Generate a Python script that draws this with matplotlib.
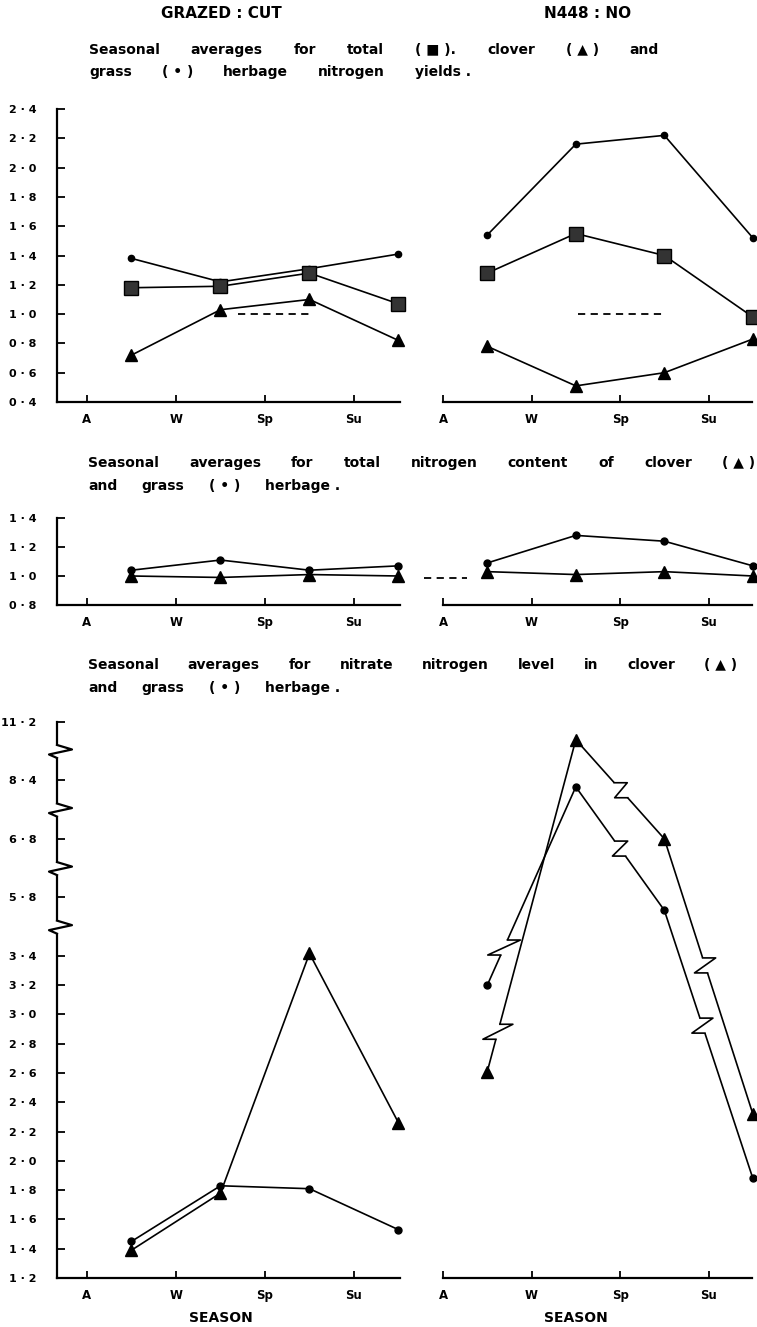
import numpy as np
import matplotlib
matplotlib.use("Agg")
import matplotlib.pyplot as plt

# seasons on the x axis, values plotted at mid-season
seasons = ["A", "W", "Sp", "Su"]
season_ticks = [0, 1, 2, 3]
mid = [0.5, 1.5, 2.5, 3.5]

# herbage nitrogen yields
yld_cut_total = [1.18, 1.19, 1.28, 1.07]
yld_cut_clover = [0.72, 1.03, 1.10, 0.82]
yld_cut_grass = [1.38, 1.22, 1.31, 1.41]
yld_no_total = [1.28, 1.55, 1.40, 0.98]
yld_no_clover = [0.78, 0.51, 0.60, 0.83]
yld_no_grass = [1.54, 2.16, 2.22, 1.52]

# total nitrogen content
cont_cut_clover = [1.00, 0.99, 1.01, 1.00]
cont_cut_grass = [1.04, 1.11, 1.04, 1.07]
cont_no_clover = [1.03, 1.01, 1.03, 1.00]
cont_no_grass = [1.09, 1.28, 1.24, 1.07]

# nitrate nitrogen level
nit_cut_clover = [1.39, 1.78, 3.50, 2.26]
nit_cut_grass = [1.45, 1.83, 1.81, 1.53]
nit_no_clover = [2.61, 10.34, 6.80, 2.32]
nit_no_grass = [3.20, 8.22, 5.27, 1.88]

# dashed reference lines (x from, x to, y)
dash_cut = [1.70, 2.50, 1.0]
dash_no = [1.53, 2.47, 1.0]
dash_mid = [-0.22, 0.27, 0.985]

# broken nitrate axis
nit_ticks = [1.2, 1.4, 1.6, 1.8, 2.0, 2.2, 2.4, 2.6, 2.8, 3.0, 3.2, 3.4, 5.8, 6.8, 8.4, 11.2]
brk_vals = [1.2, 3.4, 5.8, 6.8, 8.4, 11.2]
brk_pos = [0, 11, 13, 15, 17, 19]
# breaks drawn in the N448 nitrate lines: (segment, fraction)
no_clover_breaks = [(0, 0.12), (1, 0.51), (2, 0.46)]
no_grass_breaks = [(0, 0.19), (1, 0.50), (2, 0.43)]

W, H = 757, 1327
plt.rcParams['font.family'] = ['DejaVu Sans']
plt.rcParams['font.weight'] = 'bold'
fig = plt.figure(figsize=(W / 100, H / 100), dpi=100)


def fwd(v):
    xs = np.concatenate([[1.2 - 100], brk_vals, [11.2 + 100]])
    ps = np.concatenate([[-500], brk_pos, [19 + 100 * 2 / 2.8]])
    return np.interp(v, xs, ps)


def inv(p):
    xs = np.concatenate([[1.2 - 100], brk_vals, [11.2 + 100]])
    ps = np.concatenate([[-500], brk_pos, [19 + 100 * 2 / 2.8]])
    return np.interp(p, ps, xs)


def lab(v):
    s = "%.1f" % v
    a, b = s.split(".")
    return a + " · " + b


def make_ax(l, r, t, b, xlim, ylim, yticks=None, yaxis=True):
    ax = fig.add_axes([l / W, 1 - b / H, (r - l) / W, (b - t) / H])
    ax.set_xlim(*xlim)
    ax.set_ylim(*ylim)
    for s in ["top", "right"]:
        ax.spines[s].set_visible(False)
    ax.spines["bottom"].set_linewidth(1.6)
    ax.spines["left"].set_linewidth(1.6)
    ax.set_xticks(season_ticks)
    ax.set_xticklabels(seasons)
    ax.tick_params(axis="x", direction="in", length=5, width=1.3, pad=8, labelsize=8.5)
    if yaxis:
        ax.set_yticks(yticks)
        ax.set_yticklabels([lab(v) for v in yticks])
        ax.tick_params(axis="y", direction="in", length=6, width=1.3, pad=15, labelsize=8)
    else:
        ax.spines["left"].set_visible(False)
        ax.set_yticks([])
    ax.patch.set_alpha(0)
    return ax


def series(ax, y, marker, ms, face="black"):
    ax.plot(mid, y, color="black", lw=1.2, marker=marker, ms=ms, mfc=face,
            mec="black", mew=1.0, clip_on=False, zorder=3)


def to_axes(ax, pts):
    return ax.transAxes.inverted().transform(np.array(pts))


def line_break(ax, y, seg, t, h=7.5, w=13):
    p0 = ax.transData.transform((mid[seg], y[seg]))
    p1 = ax.transData.transform((mid[seg + 1], y[seg + 1]))
    d = p1 - p0
    c = p0 + t * d
    up = c + d * (h / abs(d[1]))
    dn = c - d * (h / abs(d[1]))
    if up[1] < dn[1]:
        up, dn = dn, up
    g = to_axes(ax, [up, dn])
    ax.plot(g[:, 0], g[:, 1], color="white", lw=3.5, transform=ax.transAxes,
            clip_on=False, zorder=4, solid_capstyle="butt")
    z = to_axes(ax, [up, up + [w, 0], dn - [w, 0], dn])
    ax.plot(z[:, 0], z[:, 1], color="black", lw=1.2, transform=ax.transAxes,
            clip_on=False, zorder=5)


def spine_break(ax, yv):
    c = ax.get_yaxis_transform().transform((0, yv))
    g = to_axes(ax, [c + [0, 6], c + [0, -7]])
    ax.plot(g[:, 0], g[:, 1], color="white", lw=4, transform=ax.transAxes,
            clip_on=False, zorder=4, solid_capstyle="butt")
    z = to_axes(ax, [c + [0, 6], c + [15, 1.5], c + [-8, -3.5], c + [0, -7]])
    ax.plot(z[:, 0], z[:, 1], color="black", lw=1.6, transform=ax.transAxes,
            clip_on=False, zorder=5)


def spread(words, x0, x1, ypx, size=10):
    r = fig.canvas.get_renderer()
    texts = [fig.text(0, 1 - ypx / H, w, fontsize=size, va="center", ha="left") for w in words]
    widths = [t.get_window_extent(r).width for t in texts]
    gap = ((x1 - x0) - sum(widths)) / (len(words) - 1)
    x = x0
    for t, w in zip(texts, widths):
        t.set_x(x / W)
        x += w + gap


# headings
fig.text(221 / W, 1 - 14 / H, "GRAZED : CUT", fontsize=11, ha="center", va="center")
fig.text(588 / W, 1 - 14 / H, "N448 : NO", fontsize=11, ha="center", va="center")

spread(["Seasonal", "averages", "for", "total", "( \u25a0 ).", "clover", "( \u25b2 )", "and"], 89, 659, 50)
spread(["grass", "( \u2022 )", "herbage", "nitrogen", "yields ."], 89, 471, 72)
spread(["Seasonal", "averages", "for", "total", "nitrogen", "content", "of", "clover", "( \u25b2 )"], 88, 755, 463)
spread(["and", "grass", "( \u2022 )", "herbage ."], 88, 340, 486)
spread(["Seasonal", "averages", "for", "nitrate", "nitrogen", "level", "in", "clover", "( \u25b2 )"], 88, 737, 665)
spread(["and", "grass", "( \u2022 )", "herbage ."], 88, 340, 688)

# --- yields
yt = [0.4, 0.6, 0.8, 1.0, 1.2, 1.4, 1.6, 1.8, 2.0, 2.2, 2.4]
ax1 = make_ax(57, 400, 109, 402, (-0.337, 3.517), (0.4, 2.4), yt)
series(ax1, yld_cut_grass, "o", 4.5)
series(ax1, yld_cut_total, "s", 9.5, "#333333")
series(ax1, yld_cut_clover, "^", 8.5)
ax1.plot(dash_cut[:2], [dash_cut[2]] * 2, "k--", lw=1.3, dashes=(4, 3))

ax2 = make_ax(443, 752, 109, 402, (0, 3.49), (0.4, 2.4), yaxis=False)
series(ax2, yld_no_grass, "o", 4.5)
series(ax2, yld_no_total, "s", 9.5, "#333333")
series(ax2, yld_no_clover, "^", 8.5)
ax2.plot(dash_no[:2], [dash_no[2]] * 2, "k--", lw=1.3, dashes=(4, 3))

# --- nitrogen content
ct = [0.8, 1.0, 1.2, 1.4]
ax3 = make_ax(57, 400, 518, 605, (-0.337, 3.517), (0.8, 1.4), ct)
series(ax3, cont_cut_grass, "o", 5)
series(ax3, cont_cut_clover, "^", 8)

ax4 = make_ax(443, 752, 518, 605, (0, 3.49), (0.8, 1.4), yaxis=False)
series(ax4, cont_no_grass, "o", 5)
series(ax4, cont_no_clover, "^", 8)
ax4.plot(dash_mid[:2], [dash_mid[2]] * 2, "k--", lw=1.3, dashes=(4, 3), clip_on=False)

# --- nitrate
ax5 = make_ax(57, 400, 721.7, 1278, (-0.337, 3.517), (1.2, 11.2), yaxis=False)
ax5.spines["left"].set_visible(True)
ax5.set_yscale("function", functions=(fwd, inv))
ax5.set_ylim(1.2, 11.2)
ax5.set_yticks(nit_ticks)
ax5.set_yticklabels([lab(v) for v in nit_ticks])
ax5.yaxis.set_minor_locator(matplotlib.ticker.NullLocator())
ax5.tick_params(axis="y", direction="in", length=6, width=1.3, pad=15, labelsize=8)
series(ax5, nit_cut_grass, "o", 5)
series(ax5, nit_cut_clover, "^", 9)
for k in range(1, len(brk_vals) - 1):
    spine_break(ax5, inv(brk_pos[k] + 1))

ax6 = make_ax(443, 752, 721.7, 1278, (0, 3.49), (1.2, 11.2), yaxis=False)
ax6.set_yscale("function", functions=(fwd, inv))
ax6.set_ylim(1.2, 11.2)
ax6.yaxis.set_minor_locator(matplotlib.ticker.NullLocator())
ax6.set_yticks([])
series(ax6, nit_no_grass, "o", 5)
series(ax6, nit_no_clover, "^", 9)
for seg, t in no_clover_breaks:
    line_break(ax6, nit_no_clover, seg, t)
for seg, t in no_grass_breaks:
    line_break(ax6, nit_no_grass, seg, t)

for ax in (ax5, ax6):
    ax.annotate("SEASON", xy=(1.5, 0), xycoords=("data", "axes fraction"),
                xytext=(0, -29), textcoords="offset points", ha="center", va="center",
                fontsize=10)

fig.savefig("out.png", dpi=100)
